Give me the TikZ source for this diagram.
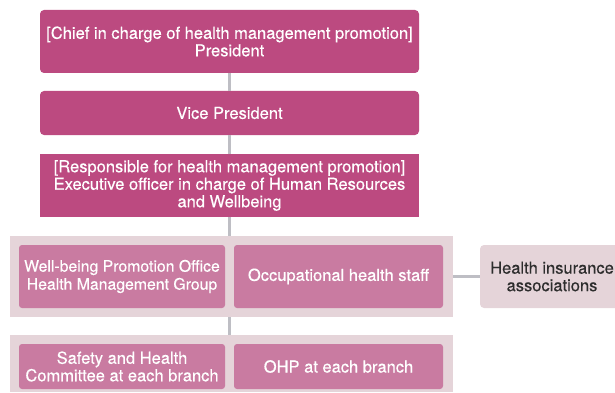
\documentclass[tikz,border=0pt]{standalone}
\usepackage{fontspec}
\setmainfont{TeX Gyre Heros}[FakeBold=0.35]
\definecolor{HeadPink}{RGB}{188,74,128}
\definecolor{StaffPink}{RGB}{201,123,161}
\definecolor{BandPink}{RGB}{229,212,217}
\definecolor{LinkGray}{RGB}{190,190,196}
\definecolor{DarkText}{RGB}{45,45,45}

\begin{document}
\begin{tikzpicture}[x=1pt,y=-1pt]
                \tikzset{Box/.style={draw=none, inner sep=0pt, align=center, text=white,
                                     font=\fontsize{16.5}{17.5}\selectfont}}
                \tikzset{HeadBox/.style={Box, fill=HeadPink, minimum width=379pt}}
                \tikzset{StaffBox/.style={Box, fill=StaffPink, rounded corners=3pt, minimum height=63pt}}
                \tikzset{Band/.style={fill=BandPink, inner sep=0pt, minimum width=443pt}}
                \tikzset{Link/.style={draw=LinkGray, line width=2.6pt}}
                \useasboundingbox (0,0) rectangle (615,393);
                \node[HeadBox, rounded corners=4pt, minimum height=63pt] (Pres) at (229.5,41.5)
                     {[Chief in charge of health management promotion]\\President};
                \node[HeadBox, rounded corners=4pt, minimum height=44pt] (Vice) at (229.5,113)
                     {Vice President};
                \node[HeadBox, minimum height=63pt] (Exec) at (229.5,185.5)
                     {[Responsible for health management promotion]\\
                      Executive officer in charge of Human Resources\\and Wellbeing};
                \node[Band, minimum height=81pt] (BandA) at (231.5,276.5) {};
                \node[StaffBox, minimum width=206pt, font=\fontsize{15.8}{18}\selectfont] (Office) at (122,276.5)
                     {Well-being Promotion Office\\Health Management Group};
                \node[StaffBox, minimum width=209pt] (Staff) at (338.5,276.5)
                     {Occupational health staff};
                \node[Box, fill=BandPink, text=DarkText, rounded corners=4pt,
                      minimum width=144pt, minimum height=63pt] (Union) at (552,276.5)
                     {Health insurance\\associations};
                \node[Band, minimum height=57pt] (BandB) at (231.5,363.5) {};
                \node[StaffBox, minimum width=206pt, minimum height=45pt] (Committee) at (122,366.5)
                     {Safety and Health\\Committee at each branch};
                \node[StaffBox, minimum width=209pt, minimum height=45pt] (Ohp) at (338.5,366.5)
                     {OHP at each branch};
                \draw[Link] (Pres.south) -- (Vice.north);
                \draw[Link] (Vice.south) -- (Exec.north);
                \draw[Link] (Exec.south) -- (Exec.south |- BandA.north);
                \draw[Link] (Exec.south |- BandA.south) -- (Exec.south |- BandB.north);
                \draw[Link] (BandA.east |- Union.west) -- (Union.west);
\end{tikzpicture}
\end{document}
